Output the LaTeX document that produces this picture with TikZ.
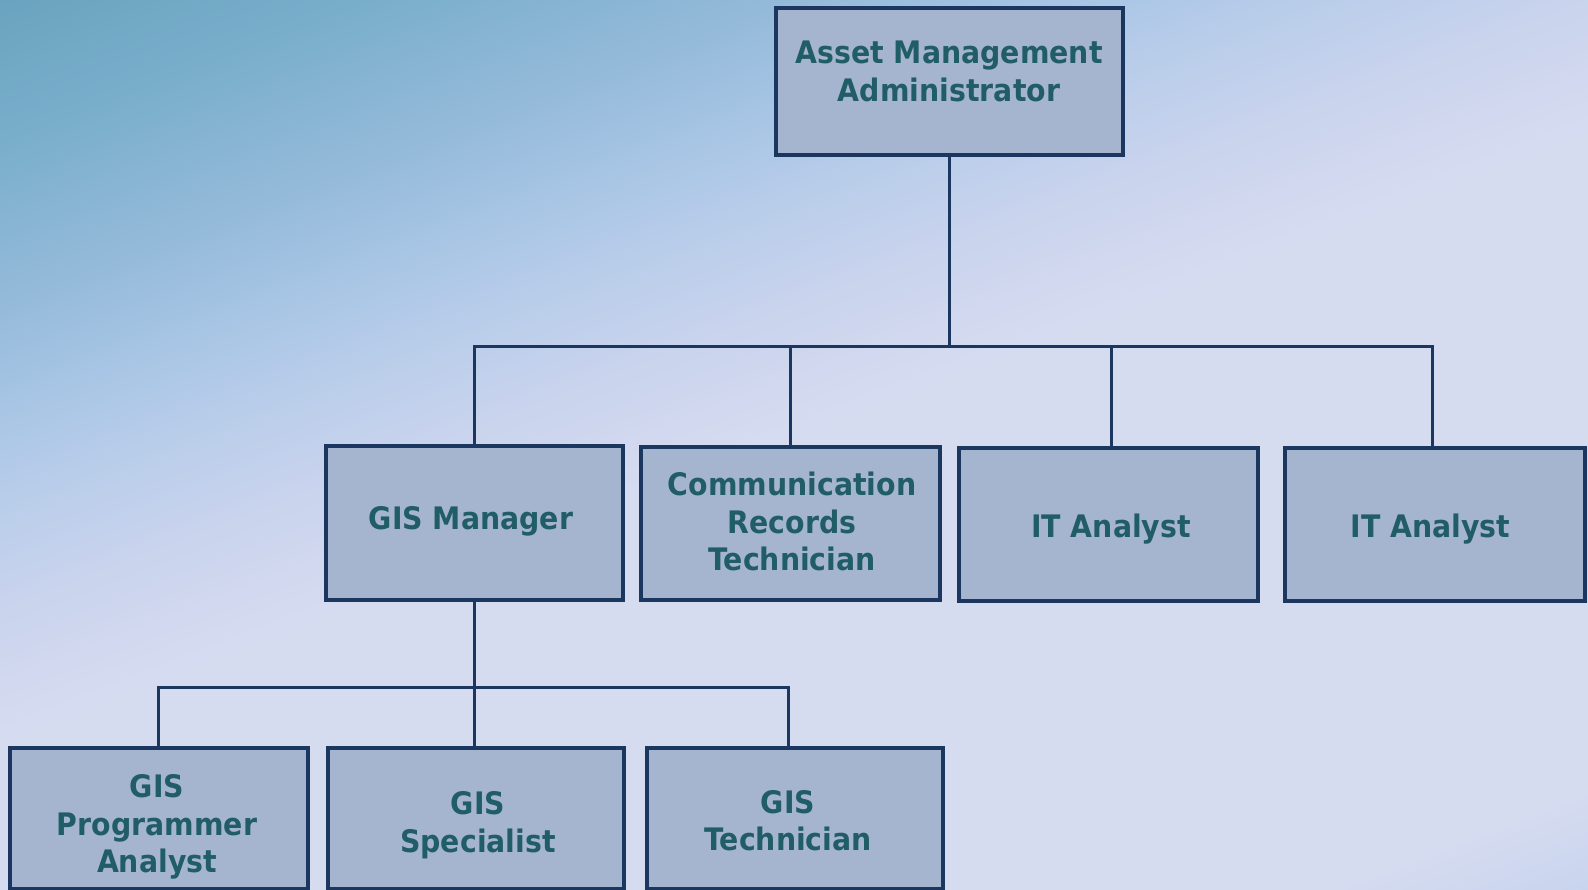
\documentclass[tikz,border=0pt]{standalone}
\usepackage{fontspec}
\newfontfamily\lblfont{DejaVu Sans}[FakeStretch=0.915]
\definecolor{boxfill}{HTML}{A6B5CF}
\definecolor{boxline}{HTML}{1B365F}
\definecolor{txt}{HTML}{215D66}
\definecolor{bgA}{HTML}{68A1BD}
\definecolor{bgB}{HTML}{6AA3BF}
\definecolor{bgC}{HTML}{7AAFCC}
\definecolor{bgD}{HTML}{94BAD9}
\definecolor{bgE}{HTML}{A6C4E4}
\definecolor{bgF}{HTML}{B8CDEA}
\definecolor{bgG}{HTML}{C8D3ED}
\definecolor{bgH}{HTML}{D3D9EF}
\definecolor{bgI}{HTML}{D6DCF0}
\definecolor{bgJ}{HTML}{C8D4EE}
\definecolor{bgK}{HTML}{C4D2EE}
\pgfdeclareverticalshading{bgshade}{100bp}{color(0bp)=(bgK); color(25bp)=(bgJ); color(28.5bp)=(bgI); color(50bp)=(bgI); color(51.6bp)=(bgH); color(55bp)=(bgG); color(58.3bp)=(bgF); color(61.65bp)=(bgE); color(65bp)=(bgD); color(70bp)=(bgC); color(75bp)=(bgB); color(100bp)=(bgA)}
\tikzset{
  orgbox/.style={draw=boxline, line width=3.3pt, fill=boxfill, inner sep=0pt, rectangle},
  lbl/.style={text=txt, font=\lblfont\bfseries\fontsize{31}{37.5}\selectfont, align=center, inner sep=0pt},
  conn/.style={draw=boxline, line width=3pt}
}
\begin{document}
\begin{tikzpicture}[x=1pt,y=-1pt]
\useasboundingbox (0,0) rectangle (1588,890);
\begin{scope}
\clip (0,0) rectangle (1588,890);
\node[inner sep=0pt, outer sep=0pt, rotate=21, xscale=19.93, yscale=27.9, transform shape] (bg) at (794,445) {\pgfuseshading{bgshade}};
\end{scope}
% boxes
\node[orgbox, minimum width=347pt, minimum height=147pt] (top) at (949.5,81.5) {};
\node[orgbox, minimum width=297pt, minimum height=154pt] (gism) at (474.5,523) {};
\node[orgbox, minimum width=299pt, minimum height=153pt] (comm) at (790.5,523.5) {};
\node[orgbox, minimum width=299pt, minimum height=153pt] (it1) at (1108.5,524.5) {};
\node[orgbox, minimum width=300pt, minimum height=153pt] (it2) at (1435,524.5) {};
\node[orgbox, minimum width=298pt, minimum height=140.5pt] (prog) at (159,818.25) {};
\node[orgbox, minimum width=296pt, minimum height=140.5pt] (spec) at (476,818.25) {};
\node[orgbox, minimum width=296pt, minimum height=140.5pt] (tech) at (795,818.25) {};
% labels
\node[lbl] (topT) at (949,71.5) {Asset Management\\Administrator};
\node[lbl, anchor=base] (gismT) at (471,529) {GIS Manager};
\node[lbl] (commT) at (792,521.5) {Communication\\Records\\Technician};
\node[lbl, anchor=base] (it1T) at (1111,537) {IT Analyst};
\node[lbl, anchor=base] (it2T) at (1430.5,537) {IT Analyst};
\node[lbl] (progT) at (157,827) {GIS\\Programmer\\Analyst};
\node[lbl] (specT) at (478,825) {GIS\\Specialist};
\node[lbl] (techT) at (788,820.5) {GIS\\Technician};
% connectors
\coordinate (hub) at (948,346.5);
\coordinate (sub) at (475,687.5);
\draw[conn] (top.south) -- (top.south |- hub);
\draw[conn] (gism.north) |- ([xshift=-2.5pt]it2.north |- hub) -- ([xshift=-2.5pt]it2.north);
\draw[conn] (comm.north) -- (comm.north |- hub);
\draw[conn] ([xshift=3pt]it1.north) -- ([xshift=3pt]it1.north |- hub);
\draw[conn] (gism.south) -- (gism.south |- spec.north);
\draw[conn] ([xshift=-0.5pt]prog.north) |- ([xshift=-6.5pt]tech.north |- sub) -- ([xshift=-6.5pt]tech.north);
\end{tikzpicture}
\end{document}
